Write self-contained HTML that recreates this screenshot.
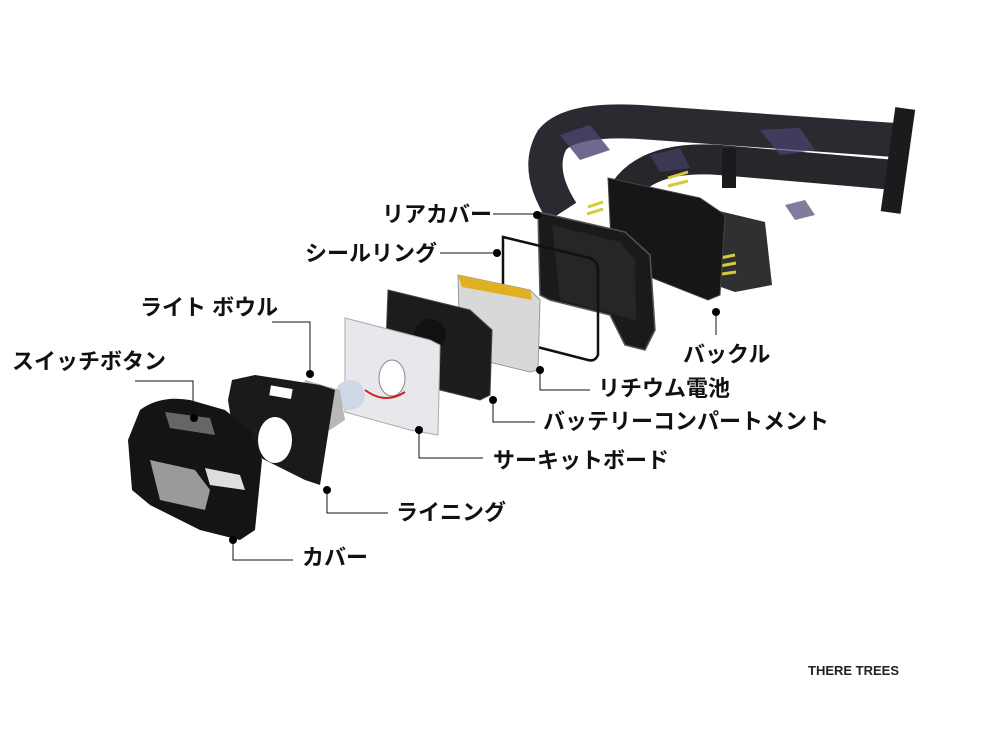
<!DOCTYPE html>
<html><head><meta charset="utf-8"><style>
html,body{margin:0;padding:0;background:#fff;}
svg{display:block}
.l{font-family:"Liberation Sans","Noto Sans CJK JP",sans-serif;font-weight:bold;font-size:22px;fill:#111}
</style></head><body>
<svg width="1000" height="750" viewBox="0 0 1000 750" xmlns="http://www.w3.org/2000/svg">
<!-- strap -->
<g fill="none" stroke-linecap="butt">
<path d="M562 212 Q535 170 552 140 Q570 118 640 122 L895 140" stroke="#2a2a30" stroke-width="34"/>
<path d="M625 190 Q650 155 720 160 L895 175" stroke="#27272b" stroke-width="30"/>
</g>
<path d="M715 210 L765 222 L772 285 L735 292 L715 285Z" fill="#303033"/>
<path d="M560 135 L590 125 L610 150 L580 160Z" fill="#4a4570" opacity="0.8"/>
<path d="M760 130 L800 128 L815 150 L780 155Z" fill="#4a4570" opacity="0.7"/>
<path d="M650 155 L680 148 L690 168 L660 172Z" fill="#4a4570" opacity="0.6"/>
<path d="M785 205 L805 200 L815 215 L795 220Z" fill="#4a4570" opacity="0.7"/>
<rect x="888" y="108" width="20" height="105" fill="#1b1b1e" transform="rotate(8 898 160)"/>
<rect x="722" y="148" width="14" height="40" fill="#1b1b1e"/>
<path d="M588 207 L603 202 M587 214 L603 209" stroke="#d8c83a" stroke-width="3"/>
<path d="M668 178 L688 172 M668 186 L688 181" stroke="#d8c83a" stroke-width="3"/>
<path d="M720 258 L735 255 M720 266 L736 263 M722 274 L736 272" stroke="#d8c83a" stroke-width="3"/>
<!-- buckle -->
<path d="M608 178 L700 198 L725 215 L720 295 L708 300 L612 262 Z" fill="#161616" stroke="#444" stroke-width="1"/>
<!-- rear cover -->
<path d="M538 212 L625 232 L650 255 L655 330 L645 350 L625 345 L610 315 L550 300 L540 295 Z" fill="#1a1a1a" stroke="#555" stroke-width="1.5"/>
<path d="M552 225 L620 242 L635 260 L636 320 L560 300 Z" fill="#262626"/>
<!-- seal ring -->
<path d="M503 237 L590 258 Q598 262 598 270 L598 355 Q595 362 588 360 L510 340 Q503 338 503 330 Z" fill="none" stroke="#111" stroke-width="2.5"/>
<!-- battery -->
<path d="M458 275 L530 290 L540 300 L538 370 L530 372 L460 355 Z" fill="#d8d8d8" stroke="#999"/>
<path d="M458 275 L530 290 L532 300 L462 287Z" fill="#e0b020"/>
<!-- compartment -->
<path d="M388 290 L470 310 L492 330 L490 395 L480 400 L400 380 L385 370 Z" fill="#1c1c1c" stroke="#444"/>
<circle cx="430" cy="335" r="16" fill="#111"/>
<!-- PCB -->
<path d="M345 318 L430 340 L440 345 L438 435 L410 430 L345 412 Z" fill="#e8e8ec" stroke="#aaa"/>
<ellipse cx="392" cy="378" rx="13" ry="18" fill="#fff" stroke="#888"/>
<path d="M365 390 Q385 405 405 392" stroke="#d02020" stroke-width="2" fill="none"/>
<circle cx="350" cy="395" r="15" fill="#d0d8e8"/>
<!-- reflector -->
<path d="M305 380 L340 390 L345 420 L330 430 L300 420 Z" fill="#b8b8b8"/>
<!-- lining -->
<path d="M232 380 L255 375 L320 385 L335 390 L320 485 L305 480 L285 470 L235 445 L228 400 Z" fill="#1a1a1a"/>
<ellipse cx="275" cy="440" rx="17" ry="23" fill="#fff"/>
<rect x="270" y="387" width="22" height="10" fill="#fff" transform="rotate(10 280 392)"/>
<!-- cover -->
<path d="M140 410 Q160 395 190 400 L225 410 L250 430 L262 460 L255 530 L240 540 L200 530 L150 505 L132 490 L128 440 Z" fill="#141414"/>
<path d="M165 412 L210 418 L215 435 L170 428Z" fill="#666"/>
<path d="M150 460 L195 470 L210 490 L205 510 L160 500 Z" fill="#9a9a9a"/>
<path d="M205 468 L240 475 L245 490 L210 485Z" fill="#ddd"/>
<!-- connectors -->
<g stroke="#111" stroke-width="1" fill="none">
<path d="M493 214 H537"/>
<path d="M440 253 H497"/>
<path d="M272 322 H310 V374"/>
<path d="M135 381 H193 V418"/>
<path d="M716 312 V335"/>
<path d="M540 370 V390 H590"/>
<path d="M493 400 V422 H535"/>
<path d="M419 430 V458 H483"/>
<path d="M327 490 V513 H388"/>
<path d="M233 540 V560 H293"/>
</g>
<g fill="#000">
<circle cx="537" cy="215" r="4"/><circle cx="497" cy="253" r="4"/>
<circle cx="310" cy="374" r="4"/><circle cx="194" cy="418" r="4"/>
<circle cx="716" cy="312" r="4"/><circle cx="540" cy="370" r="4"/>
<circle cx="493" cy="400" r="4"/><circle cx="419" cy="430" r="4"/>
<circle cx="327" cy="490" r="4"/><circle cx="233" cy="540" r="4"/>
</g>
<text class="l" x="382" y="222">リアカバー</text>
<text class="l" x="305" y="261">シールリング</text>
<text class="l" x="140" y="315">ライト ボウル</text>
<text class="l" x="12" y="369">スイッチボタン</text>
<text class="l" x="683" y="362">バックル</text>
<text class="l" x="598" y="396">リチウム電池</text>
<text class="l" x="543" y="429">バッテリーコンパートメント</text>
<text class="l" x="493" y="468">サーキットボード</text>
<text class="l" x="396" y="520">ライニング</text>
<text class="l" x="302" y="565">カバー</text>
<text x="808" y="675" font-family="Liberation Sans, sans-serif" font-weight="bold" font-size="13" fill="#222">THERE TREES</text>
</svg>
</body></html>
